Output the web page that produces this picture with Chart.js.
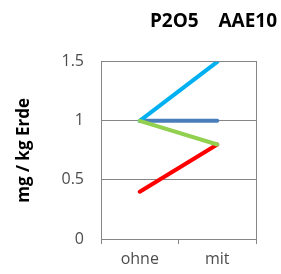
<!DOCTYPE html>
<html>
<head>
<meta charset="utf-8">
<script src="https://cdn.jsdelivr.net/npm/chart.js@4"></script>
<style>
  html, body { margin: 0; padding: 0; background: #fff; }
  #wrap { width: 281px; height: 274px; }
</style>
</head>
<body>
<div id="wrap"><canvas id="chart"></canvas></div>
<script>
// Kategorien und Werte (mg / kg Erde)
const categories = ['ohne', 'mit'];
const greenValues = [1, 0.8];
const lightBlueValues = [1, 1.5];
const redValues = [0.4, 0.8];
const darkBlueValues = [1, 1];
const yTicks = [0, 0.5, 1, 1.5];

const axisGray = '#868686';
const labelGray = '#4d4d4d';

function line(data, color) {
  return {
    data: data,
    borderColor: color,
    backgroundColor: color,
    borderWidth: 4,
    borderCapStyle: 'round',
    borderJoinStyle: 'round',
    pointRadius: 0,
    fill: false,
    tension: 0
  };
}

new Chart(document.getElementById('chart'), {
  type: 'line',
  data: {
    labels: categories,
    // erster Datensatz wird zuletzt (oben) gezeichnet
    datasets: [
      line(greenValues, '#92D050'),
      line(lightBlueValues, '#00B0F0'),
      line(redValues, '#FF0000'),
      line(darkBlueValues, '#4A7EBB')
    ]
  },
  options: {
    responsive: true,
    maintainAspectRatio: false,
    animation: false,
    layout: { padding: { left: 0, right: 4, top: 0, bottom: 0 } },
    plugins: {
      legend: { display: false },
      tooltip: { enabled: false },
      title: {
        display: true,
        text: 'P2O5    AAE10',
        align: 'end',
        color: '#000',
        font: { family: 'Open Sans', size: 19, weight: 'bold' },
        padding: { top: 10, bottom: 29 }
      }
    },
    scales: {
      x: {
        offset: true,
        grid: { offset: true, drawOnChartArea: false, drawTicks: true, tickLength: 5, color: axisGray },
        border: { display: true, color: axisGray },
        ticks: { color: labelGray, font: { family: 'Open Sans', size: 16 }, padding: 6, maxRotation: 0 },
        afterFit: s => { s.height = 35; }
      },
      y: {
        min: 0,
        max: 1.5,
        afterBuildTicks: s => { s.ticks = yTicks.map(v => ({ value: v })); },
        grid: { color: axisGray, drawTicks: false },
        border: { display: true, color: axisGray },
        ticks: {
          color: labelGray,
          font: { family: 'Open Sans', size: 16 },
          padding: 17,
          callback: v => String(v)
        },
        title: {
          display: true,
          text: 'mg / kg Erde',
          color: '#000',
          font: { family: 'Open Sans', size: 17, weight: 'bold' },
          padding: { top: 14, bottom: 0 }
        },
        afterFit: s => { s.width = 101; }
      },
      // rechter Rahmen der Zeichenfläche
      yRight: {
        position: 'right',
        min: 0,
        max: 1.5,
        grid: { display: false, drawTicks: false },
        ticks: { display: false },
        border: { display: true, color: axisGray },
        afterFit: s => { s.width = 21; }
      }
    }
  }
});
</script>
</body>
</html>
